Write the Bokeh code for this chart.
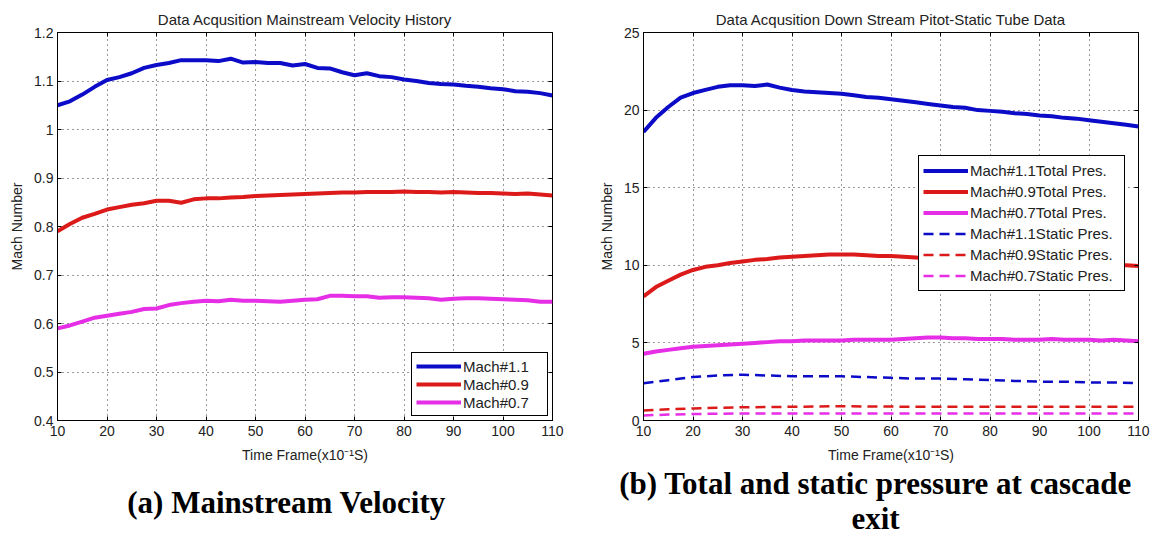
from bokeh.plotting import figure
from bokeh.models import (Legend, LegendItem, Label, FixedTicker, Range1d, LinearAxis,
                          CustomJSTickFormatter)
from bokeh.layouts import row, column
from bokeh.embed import file_html
from bokeh.resources import INLINE

# ---------------- data ----------------
t = [10, 12.5, 15, 17.5, 20, 22.5, 25, 27.5, 30, 32.5, 35, 37.5, 40, 42.5, 45, 47.5,
     50, 52.5, 55, 57.5, 60, 62.5, 65, 67.5, 70, 72.5, 75, 77.5, 80, 82.5, 85, 87.5,
     90, 92.5, 95, 97.5, 100, 102.5, 105, 107.5, 110]

vel_m11 = [1.050, 1.058, 1.072, 1.088, 1.102, 1.108, 1.116, 1.127, 1.133, 1.137, 1.143, 1.143,
           1.143, 1.141, 1.146, 1.138, 1.139, 1.137, 1.137, 1.132, 1.135, 1.127, 1.126, 1.118,
           1.112, 1.116, 1.110, 1.108, 1.103, 1.100, 1.096, 1.094, 1.093, 1.090, 1.088, 1.085,
           1.083, 1.079, 1.078, 1.075, 1.070]
vel_m09 = [0.790, 0.805, 0.818, 0.826, 0.835, 0.840, 0.845, 0.848, 0.853, 0.853, 0.849, 0.856,
           0.858, 0.858, 0.860, 0.861, 0.863, 0.864, 0.865, 0.866, 0.867, 0.868, 0.869, 0.870,
           0.870, 0.871, 0.871, 0.871, 0.872, 0.871, 0.871, 0.870, 0.871, 0.870, 0.869, 0.869,
           0.868, 0.867, 0.868, 0.866, 0.864]
vel_m07 = [0.590, 0.596, 0.604, 0.612, 0.616, 0.620, 0.624, 0.630, 0.631, 0.638, 0.642, 0.645,
           0.647, 0.646, 0.649, 0.647, 0.647, 0.646, 0.645, 0.647, 0.649, 0.650, 0.657, 0.657,
           0.656, 0.656, 0.653, 0.654, 0.654, 0.653, 0.652, 0.649, 0.651, 0.652, 0.652, 0.651,
           0.650, 0.649, 0.648, 0.645, 0.645]

tot_m11 = [18.6, 19.5, 20.2, 20.8, 21.1, 21.3, 21.5, 21.6, 21.6, 21.55, 21.65, 21.45, 21.3, 21.2,
           21.15, 21.1, 21.05, 20.95, 20.85, 20.8, 20.7, 20.6, 20.5, 20.4, 20.3, 20.2, 20.15,
           20.0, 19.95, 19.9, 19.8, 19.75, 19.65, 19.6, 19.5, 19.45, 19.35, 19.25, 19.15, 19.05, 18.95]
tot_m09 = [8.0, 8.6, 9.0, 9.4, 9.7, 9.9, 10.0, 10.15, 10.25, 10.35, 10.4, 10.5, 10.55, 10.6,
           10.65, 10.7, 10.7, 10.7, 10.65, 10.6, 10.6, 10.55, 10.5, 10.45, 10.5, 10.45, 10.4,
           10.4, 10.35, 10.3, 10.3, 10.25, 10.2, 10.2, 10.15, 10.1, 10.1, 10.05, 10.0, 10.0, 9.95]
tot_m07 = [4.3, 4.45, 4.55, 4.65, 4.75, 4.8, 4.85, 4.9, 4.95, 5.0, 5.05, 5.1, 5.1, 5.15, 5.15,
           5.15, 5.15, 5.2, 5.2, 5.2, 5.2, 5.25, 5.3, 5.35, 5.35, 5.3, 5.3, 5.25, 5.25, 5.25,
           5.2, 5.2, 5.2, 5.25, 5.2, 5.2, 5.2, 5.15, 5.2, 5.15, 5.1]

ts = [10, 15, 20, 25, 30, 35, 40, 45, 50, 55, 60, 65, 70, 75, 80, 85, 90, 95, 100, 105, 110]
stat_m11 = [2.4, 2.6, 2.8, 2.9, 2.95, 2.9, 2.85, 2.85, 2.85, 2.8, 2.75, 2.7, 2.7, 2.65, 2.6,
            2.55, 2.5, 2.5, 2.45, 2.45, 2.4]
stat_m09 = [0.65, 0.72, 0.78, 0.82, 0.85, 0.87, 0.88, 0.9, 0.92, 0.9, 0.9, 0.88, 0.88, 0.88,
            0.88, 0.88, 0.88, 0.88, 0.88, 0.88, 0.88]
stat_m07 = [0.33, 0.38, 0.42, 0.44, 0.45, 0.45, 0.45, 0.45, 0.45, 0.45, 0.45, 0.45, 0.45, 0.45,
            0.45, 0.45, 0.45, 0.45, 0.45, 0.45, 0.45]

x_ticks = [10, 20, 30, 40, 50, 60, 70, 80, 90, 100, 110]
vel_yticks = [0.4, 0.5, 0.6, 0.7, 0.8, 0.9, 1.0, 1.1, 1.2]
vel_ytick_labels = ["0.4", "0.5", "0.6", "0.7", "0.8", "0.9", "1", "1.1", "1.2"]
pres_yticks = [0, 5, 10, 15, 20, 25]

vel_names = ["Mach#1.1", "Mach#0.9", "Mach#0.7"]
pres_names = ["Mach#1.1Total Pres.", "Mach#0.9Total Pres.", "Mach#0.7Total Pres.",
              "Mach#1.1Static Pres.", "Mach#0.9Static Pres.", "Mach#0.7Static Pres."]

title_a = "Data Acqusition Mainstream Velocity History"
title_b = "Data Acqusition Down Stream Pitot-Static Tube Data"
xlabel = "Time Frame(x10\u207b\u00b9S)"
ylabel = "Mach Number"
caption_a = "(a) Mainstream Velocity"
caption_b1 = "(b) Total and static pressure at cascade"
caption_b2 = "exit"

BLUE = "#0b0bc8"
RED = "#dc1a1a"
MAG = "#e62ee6"
FONT = "Liberation Sans"
SERIF = "Liberation Serif"
TXT = "#222222"


def mirror_axis(ticks):
    # tick marks only (MATLAB "box on" style); no labels
    return LinearAxis(ticker=FixedTicker(ticks=ticks),
                      formatter=CustomJSTickFormatter(code="return ''"),
                      major_tick_in=4, major_tick_out=0, minor_tick_line_color=None,
                      major_tick_line_color="black", axis_line_color=None,
                      major_label_standoff=0, major_label_text_font_size="1px")


def style(p, yticks):
    p.title.align = "center"
    p.title.text_font = FONT
    p.title.text_font_size = "15px"
    p.title.text_font_style = "normal"
    p.title.text_color = TXT
    p.title.standoff = 10
    p.outline_line_color = "black"
    p.outline_line_width = 1
    p.outline_line_alpha = 1
    p.xaxis.ticker = FixedTicker(ticks=x_ticks)
    p.yaxis.ticker = FixedTicker(ticks=yticks)
    for ax in (p.xaxis, p.yaxis):
        ax.axis_line_color = "black"
        ax.major_tick_in = 4
        ax.major_tick_out = 0
        ax.minor_tick_line_color = None
        ax.major_tick_line_color = "black"
        ax.major_label_text_font = FONT
        ax.major_label_text_font_size = "14px"
        ax.major_label_text_color = TXT
        ax.axis_label_text_font = FONT
        ax.axis_label_text_font_size = "14px"
        ax.axis_label_text_font_style = "normal"
        ax.axis_label_text_color = TXT
    p.xaxis.axis_label = xlabel
    p.yaxis.axis_label = ylabel
    p.xaxis.major_label_standoff = 5
    p.xaxis.axis_label_standoff = 8
    p.yaxis.major_label_standoff = 4
    p.yaxis.axis_label_standoff = 6
    p.xgrid.ticker = FixedTicker(ticks=x_ticks)
    p.ygrid.ticker = FixedTicker(ticks=yticks)
    for g in (p.xgrid, p.ygrid):
        g.grid_line_color = "black"
        g.grid_line_alpha = 0.8
        g.grid_line_dash = "1 4"
        g.grid_line_width = 1
    p.add_layout(mirror_axis(x_ticks), "above")
    p.add_layout(mirror_axis(yticks), "right")


def make_legend(names, renderers, **kw):
    return Legend(items=[LegendItem(label=n, renderers=[r]) for n, r in zip(names, renderers)],
                  padding=4, spacing=0, glyph_width=45, label_standoff=2,
                  label_text_font=FONT, label_text_font_size="15px", label_text_color=TXT,
                  border_line_color="black", border_line_width=1, border_line_alpha=1,
                  background_fill_color="white", background_fill_alpha=1, **kw)


PLOT_H = 465

# ---------------- plot (a) ----------------
pa = figure(width=578, height=PLOT_H, output_backend="svg", toolbar_location=None,
            x_range=Range1d(10, 110), y_range=Range1d(0.4, 1.2),
            min_border_left=57, min_border_right=26, min_border_top=32,
            min_border_bottom=PLOT_H - 421, title=title_a)
style(pa, vel_yticks)
pa.yaxis[0].major_label_overrides = {v: s for v, s in zip(vel_yticks, vel_ytick_labels)}

ra = []
for ys, c in zip([vel_m11, vel_m09, vel_m07], [BLUE, RED, MAG]):
    ra.append(pa.line(t, ys, line_color=c, line_width=4))
pa.add_layout(make_legend(vel_names, ra, location="bottom_right", margin=4,
                          glyph_height=18, label_height=18, label_width=80))

# ---------------- plot (b) ----------------
pb = figure(width=577, height=PLOT_H, output_backend="svg", toolbar_location=None,
            x_range=Range1d(10, 110), y_range=Range1d(0, 25),
            min_border_left=65, min_border_right=17, min_border_top=32,
            min_border_bottom=PLOT_H - 421, title=title_b)
style(pb, pres_yticks)

rb = []
for ys, c in zip([tot_m11, tot_m09, tot_m07], [BLUE, RED, MAG]):
    rb.append(pb.line(t, ys, line_color=c, line_width=4))
for ys, c in zip([stat_m11, stat_m09, stat_m07], [BLUE, RED, MAG]):
    rb.append(pb.line(ts, ys, line_color=c, line_width=2.5, line_dash="10 6"))
pb.add_layout(make_legend(pres_names, rb, location=(275, 129),
                          glyph_height=21, label_height=21, label_width=150))

# ---------------- captions ----------------
pc = figure(width=1155, height=537 - PLOT_H, output_backend="svg", toolbar_location=None,
            x_range=Range1d(0, 1155), y_range=Range1d(537, PLOT_H),
            x_axis_type=None, y_axis_type=None, min_border=0)
pc.outline_line_color = None
pc.xgrid.visible = False
pc.ygrid.visible = False
for txt, cx, cy in [(caption_a, 286, 502), (caption_b1, 875, 483), (caption_b2, 875, 518)]:
    pc.add_layout(Label(x=cx, y=cy, text=txt, text_align="center", text_baseline="middle",
                        text_font=SERIF, text_font_size="31px", text_font_style="bold",
                        text_color="black"))

layout = column(row(pa, pb), pc)
open("out.html", "w").write(file_html(layout, INLINE))
